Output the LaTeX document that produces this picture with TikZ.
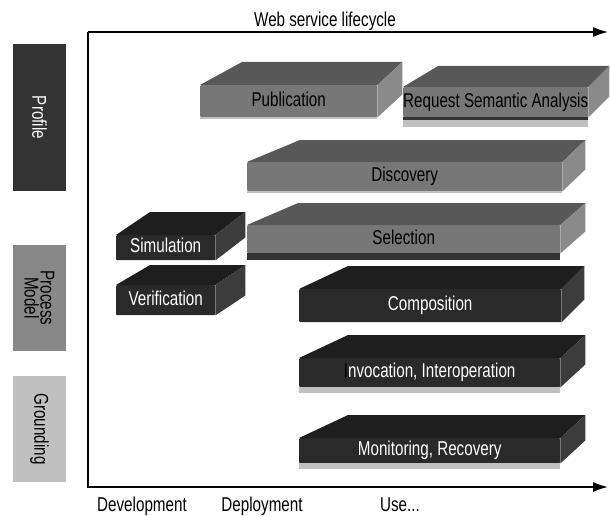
\documentclass[tikz,border=0pt]{standalone}
\usepackage{fontspec}
\setmainfont{Liberation Sans}[FakeStretch=0.76]
\usetikzlibrary{positioning,arrows.meta,calc}

\definecolor{proffront}{HTML}{777777}
\definecolor{proftopc}{HTML}{585858}
\definecolor{profsidec}{HTML}{8A8A8A}
\definecolor{procfront}{HTML}{2A2A2A}
\definecolor{proctopc}{HTML}{1E1E1E}
\definecolor{procsidec}{HTML}{3C3C3C}
\definecolor{profbar}{HTML}{333333}
\definecolor{modelbar}{HTML}{888888}
\definecolor{groundbar}{HTML}{C0C0C0}

\tikzset{
  slab/.style={inner sep=0pt, rounded corners=1pt, text height=15pt, text depth=5pt, anchor=north west},
  profslab/.style={slab, fill=proffront, text=black},
  procslab/.style={slab, fill=procfront, text=white},
  proftop/.style={fill=proftopc},
  profside/.style={fill=profsidec},
  proctop/.style={fill=proctopc},
  procside/.style={fill=procsidec},
  darkstrip/.style={fill=profbar},
  lightstrip/.style={fill=groundbar},
  legend/.style={rotate=-90, minimum height=53pt, inner sep=0pt, align=center},
  axis/.style={line width=1.5pt},
  tip/.style={-{Latex[length=15pt,width=10pt]}},
}

% top and side faces of a slab: node, left shift, right shift, depth, kind
\newcommand{\slabfaces}[5]{%
  \fill[#5top] (#1.north west) -- ++(#2,-#4) -- ($(#1.north east)+(#3,-#4)$) -- (#1.north east) -- cycle;
  \fill[#5side] (#1.north east) -- ++(#3,-#4) -- ($(#1.south east)+(#3,-#4)$) -- (#1.south east) -- cycle;
}

\begin{document}
\begin{tikzpicture}[x=1pt, y=-1pt, font=\fontsize{20}{22}\selectfont]
  \useasboundingbox (0,0) rectangle (610,516);

  % legend bars
  \node[legend, fill=profbar, text=white, minimum width=147pt] (profile) at (39.5,117.5) {Profile};
  \node[legend, fill=modelbar, minimum width=106pt, font=\fontsize{20}{16}\selectfont] (model) at (39.5,298) {Process\\Model};
  \node[legend, fill=groundbar, minimum width=106pt] (grounding) at (39.5,429) {Grounding};

  % axes
  \coordinate (ytop) at (88,32);
  \coordinate (origin) at (88,487);
  \coordinate (tend) at (608,32);
  \coordinate (xend) at (608,487);
  \draw[axis, tip] (ytop) -- (tend);
  \draw[axis, tip] (ytop) -- (origin) -- (xend);

  \node[anchor=base] (lifecycle) at (325,27) {Web service lifecycle};
  \node[anchor=base] (dev) at (142,511) {Development};
  \node[anchor=base] (depl) at (262,511) {Deployment};
  \node[anchor=base] (use) at (400,511) {Use...};

  % profile slabs
  \node[profslab, minimum width=177pt, minimum height=32pt] (pub) at (200,85) {Publication};
  \slabfaces{pub}{42}{25}{23}{prof}
  \fill[lightstrip] (pub.south west) rectangle ($(pub.south east)+(0,2)$);

  \node[profslab, minimum width=184pt, minimum height=30pt] (req) at (403,87) {Request Semantic Analysis};
  \slabfaces{req}{35}{21}{21}{prof}
  \fill[darkstrip] (req.south west) rectangle ($(req.south east)+(0,3)$);
  \fill[lightstrip] ($(req.south west)+(0,3)$) rectangle ($(req.south east)+(0,10)$);

  \node[profslab, minimum width=315pt, minimum height=29pt] (disc) at (247,162) {Discovery};
  \slabfaces{disc}{53}{23}{22}{prof}
  \fill[lightstrip] (disc.south west) rectangle ($(disc.south east)+(0,2)$);

  \node[profslab, minimum width=313pt, minimum height=28pt] (sel) at (247,225) {Selection};
  \slabfaces{sel}{51}{25}{22}{prof}
  \fill[darkstrip] (sel.south west) rectangle ($(sel.south east)+(0,7)$);

  % process model slabs
  \node[procslab, minimum width=99pt, minimum height=25pt] (sim) at (116,235) {Simulation};
  \slabfaces{sim}{34}{30}{23}{proc}

  \node[procslab, minimum width=99pt, minimum height=30pt] (ver) at (116,285) {Verification};
  \slabfaces{ver}{34}{30}{20}{proc}

  \node[procslab, minimum width=262pt, minimum height=33pt] (comp) at (299,289) {Composition};
  \slabfaces{comp}{49}{23}{23}{proc}

  \node[procslab, minimum width=261pt, minimum height=29pt] (inv) at (299,358) {{\color{black}I}nvocation, Interoperation};
  \slabfaces{inv}{49}{25}{23}{proc}
  \fill[lightstrip] (inv.south west) rectangle ($(inv.south east)+(0,6)$);

  \node[procslab, minimum width=261pt, minimum height=25pt] (mon) at (299,438) {Monitoring, Recovery};
  \slabfaces{mon}{49}{25}{23}{proc}
  \fill[lightstrip] (mon.south west) rectangle ($(mon.south east)+(0,6)$);
\end{tikzpicture}
\end{document}
